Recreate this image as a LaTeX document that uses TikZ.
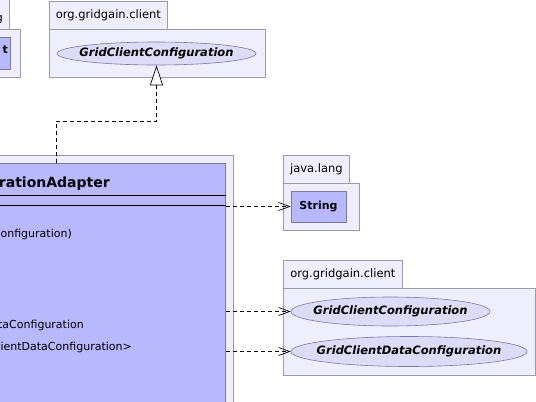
\documentclass[tikz,border=0pt]{standalone}
\usepackage{fontspec}
\setmainfont{DejaVu Sans}
\usetikzlibrary{shapes.geometric,arrows.meta,positioning}
\definecolor{pkgfill}{HTML}{EEEEFC}
\definecolor{pkgline}{HTML}{9A9AB0}
\definecolor{clsfill}{HTML}{B8B8FF}
\definecolor{clsline}{HTML}{7A7AA8}
\definecolor{ifcfill}{HTML}{DCDCF8}
\tikzset{pkg/.style={draw=pkgline, fill=pkgfill, line width=0.8pt, rectangle, anchor=north west, inner sep=0pt, font=\fontsize{11.5}{13}\selectfont}}

\begin{document}
\begin{tikzpicture}[x=1pt,y=-1pt]
\tikzstyle{cls} = [draw=clsline, fill=clsfill, line width=0.8pt, rectangle, anchor=north west, inner sep=0pt, font=\bfseries\fontsize{11}{13}\selectfont]
\tikzstyle{ifc} = [ellipse, draw=clsline, fill=ifcfill, line width=0.6pt, inner xsep=-35pt, inner ysep=0pt, font=\bfseries\itshape\fontsize{11.5}{13}\selectfont]
\tikzstyle{member} = [anchor=base east, inner sep=0pt, font=\fontsize{11}{13}\selectfont]
\tikzstyle{dep} = [line width=0.7pt, dash pattern=on 4pt off 3pt, -{Straight Barb[length=11pt,width=8pt]}]
\tikzstyle{realize} = [line width=0.7pt, dash pattern=on 4pt off 3pt, -{Triangle[length=20pt,width=13pt,fill=white]}]

\fill[white] (0,0) rectangle (536,402);
\useasboundingbox (0,0) rectangle (536,402);
\clip (0,0) rectangle (536,402);

% java.lang, cut at the left edge
\node (lbody) [pkg, minimum width=70pt, minimum height=48pt] at (-50,29) {};
\node (ltab) [pkg, minimum width=59pt, minimum height=34pt] at (-50,-5) {};
\node (lobj) [cls, minimum width=60pt, minimum height=32pt] at (-50,37) {};
\node (ltabtxt) [member] at (3,21) {g};
\node (lobjtxt) [member, font=\bfseries\fontsize{11}{13}\selectfont] at (8,53) {t};

% org.gridgain.client (top)
\node (topbody) [pkg, minimum width=216pt, minimum height=48pt] at (49,29) {};
\node (toptab) [pkg, minimum width=118pt, minimum height=28pt] at (49,1) {org.gridgain.client};
\node (gcc) [ifc, minimum width=199pt, minimum height=23pt] at (156.5,53.5) {GridClientConfiguration};

% adapter class
\node (adpkg) [pkg, minimum width=281pt, minimum height=260pt] at (-48,155) {};
\node (adapter) [cls, minimum width=265pt, minimum height=250pt] at (-40,163) {};
\node (adtitle) [member, font=\bfseries\fontsize{14}{16}\selectfont] at (110,187) {rationAdapter};
\draw[line width=0.8pt] ([yshift=-32pt]adapter.north west) -- ([yshift=-32pt]adapter.north east);
\draw[line width=0.8pt] ([yshift=-42pt]adapter.north west) -- ([yshift=-42pt]adapter.north east);
\node (m1) [member] at (72,237) {Configuration)};
\node (m2) [member] at (84,328) {taConfiguration};
\node (m3) [member] at (132,350) {ientDataConfiguration>};

% java.lang
\node (langbody) [pkg, minimum width=76pt, minimum height=47pt] at (283,183) {};
\node (langtab) [pkg, minimum width=66pt, minimum height=28pt] at (283,155) {java.lang};
\node (str) [cls, minimum width=55pt, minimum height=31pt, anchor=center] at (318.5,206.5) {String};

% org.gridgain.client (right)
\node (clibody) [pkg, minimum width=252pt, minimum height=87pt] at (283,288) {};
\node (clitab) [pkg, minimum width=119pt, minimum height=28pt] at (283,260) {org.gridgain.client};
\node (gcc2) [ifc, minimum width=199pt, minimum height=29pt] at (390.5,311.5) {GridClientConfiguration};
\node (gcdc) [ifc, minimum width=236pt, minimum height=30pt] at (409,351.5) {GridClientDataConfiguration};

\coordinate (bend) at (56,121);
\draw [realize] (adapter.north -| bend) -- (bend) -| (gcc.south);
\draw [dep] (adapter.east |- str.west) -- (str.west);
\draw [dep] (adapter.east |- gcc2.west) -- (gcc2.west);
\draw [dep] (adapter.east |- gcdc.west) -- (gcdc.west);

\end{tikzpicture}
\end{document}
